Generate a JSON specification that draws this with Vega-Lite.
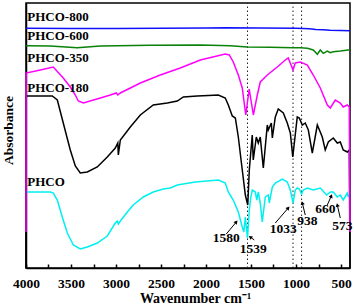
{
  "$schema": "https://vega.github.io/schema/vega-lite/v6.json",
  "width": 324,
  "height": 265,
  "autosize": {"type": "none"},
  "padding": {"left": 26, "top": 3, "right": 4, "bottom": 38},
  "background": "white",
  "config": {
    "view": {"stroke": "black", "strokeWidth": 1.5},
    "font": "Liberation Serif",
    "axis": {"grid": false, "domainColor": "black", "domainWidth": 1.5, "tickColor": "black", "labelColor": "black", "titleColor": "black", "labelFont": "Liberation Serif", "titleFont": "Liberation Serif", "labelFontWeight": "bold", "titleFontWeight": "bold"},
    "text": {"font": "Liberation Serif", "fontWeight": "bold", "color": "black"}
  },
  "datasets": {
    "curves": [
      {"s": "PHCO-800", "wn": 4000, "h": 240.7}, {"s": "PHCO-800", "wn": 3500, "h": 240.6}, {"s": "PHCO-800", "wn": 3000, "h": 240.5}, {"s": "PHCO-800", "wn": 2500, "h": 240.7}, {"s": "PHCO-800", "wn": 2000, "h": 240.9}, {"s": "PHCO-800", "wn": 1786, "h": 241.3}, {"s": "PHCO-800", "wn": 1400, "h": 241}, {"s": "PHCO-800", "wn": 1000, "h": 240.7}, {"s": "PHCO-800", "wn": 850, "h": 240.3}, {"s": "PHCO-800", "wn": 780, "h": 239.5}, {"s": "PHCO-800", "wn": 700, "h": 239.3}, {"s": "PHCO-800", "wn": 620, "h": 238.8}, {"s": "PHCO-800", "wn": 500, "h": 238.5}, {"s": "PHCO-800", "wn": 400, "h": 238.3},
      {"s": "PHCO-600", "wn": 4000, "h": 223.3}, {"s": "PHCO-600", "wn": 3730, "h": 223}, {"s": "PHCO-600", "wn": 3430, "h": 221.3}, {"s": "PHCO-600", "wn": 3174, "h": 223}, {"s": "PHCO-600", "wn": 2619, "h": 223.7}, {"s": "PHCO-600", "wn": 2063, "h": 224}, {"s": "PHCO-600", "wn": 1730, "h": 223.3}, {"s": "PHCO-600", "wn": 1541, "h": 222}, {"s": "PHCO-600", "wn": 1286, "h": 221.7}, {"s": "PHCO-600", "wn": 1030, "h": 221.3}, {"s": "PHCO-600", "wn": 952, "h": 221.3}, {"s": "PHCO-600", "wn": 874, "h": 220.7}, {"s": "PHCO-600", "wn": 808, "h": 219}, {"s": "PHCO-600", "wn": 763, "h": 214.7}, {"s": "PHCO-600", "wn": 730, "h": 219}, {"s": "PHCO-600", "wn": 697, "h": 215.7}, {"s": "PHCO-600", "wn": 652, "h": 218}, {"s": "PHCO-600", "wn": 619, "h": 216.3}, {"s": "PHCO-600", "wn": 586, "h": 217.3}, {"s": "PHCO-600", "wn": 508, "h": 218}, {"s": "PHCO-600", "wn": 419, "h": 219}, {"s": "PHCO-600", "wn": 400, "h": 219},
      {"s": "PHCO-350", "wn": 4000, "h": 37}, {"s": "PHCO-350", "wn": 3999, "h": 196}, {"s": "PHCO-350", "wn": 3841, "h": 199}, {"s": "PHCO-350", "wn": 3697, "h": 202}, {"s": "PHCO-350", "wn": 3586, "h": 191}, {"s": "PHCO-350", "wn": 3508, "h": 182}, {"s": "PHCO-350", "wn": 3452, "h": 174}, {"s": "PHCO-350", "wn": 3419, "h": 168}, {"s": "PHCO-350", "wn": 3363, "h": 166}, {"s": "PHCO-350", "wn": 3174, "h": 171}, {"s": "PHCO-350", "wn": 3063, "h": 174}, {"s": "PHCO-350", "wn": 2997, "h": 176}, {"s": "PHCO-350", "wn": 2980, "h": 174}, {"s": "PHCO-350", "wn": 2952, "h": 176}, {"s": "PHCO-350", "wn": 2730, "h": 186}, {"s": "PHCO-350", "wn": 2508, "h": 194}, {"s": "PHCO-350", "wn": 2286, "h": 201}, {"s": "PHCO-350", "wn": 2063, "h": 209}, {"s": "PHCO-350", "wn": 1786, "h": 215}, {"s": "PHCO-350", "wn": 1741, "h": 214}, {"s": "PHCO-350", "wn": 1697, "h": 207}, {"s": "PHCO-350", "wn": 1641, "h": 194}, {"s": "PHCO-350", "wn": 1597, "h": 181}, {"s": "PHCO-350", "wn": 1558, "h": 154}, {"s": "PHCO-350", "wn": 1520, "h": 180}, {"s": "PHCO-350", "wn": 1474, "h": 154}, {"s": "PHCO-350", "wn": 1430, "h": 174}, {"s": "PHCO-350", "wn": 1397, "h": 187}, {"s": "PHCO-350", "wn": 1319, "h": 194}, {"s": "PHCO-350", "wn": 1208, "h": 202}, {"s": "PHCO-350", "wn": 1119, "h": 209}, {"s": "PHCO-350", "wn": 1086, "h": 211}, {"s": "PHCO-350", "wn": 1033, "h": 199}, {"s": "PHCO-350", "wn": 1008, "h": 206}, {"s": "PHCO-350", "wn": 952, "h": 207}, {"s": "PHCO-350", "wn": 874, "h": 204}, {"s": "PHCO-350", "wn": 808, "h": 194}, {"s": "PHCO-350", "wn": 730, "h": 181}, {"s": "PHCO-350", "wn": 652, "h": 164}, {"s": "PHCO-350", "wn": 619, "h": 161}, {"s": "PHCO-350", "wn": 563, "h": 169}, {"s": "PHCO-350", "wn": 508, "h": 166}, {"s": "PHCO-350", "wn": 475, "h": 162}, {"s": "PHCO-350", "wn": 430, "h": 164}, {"s": "PHCO-350", "wn": 408, "h": 162}, {"s": "PHCO-350", "wn": 400, "h": 37},
      {"s": "PHCO-180", "wn": 4000, "h": 1}, {"s": "PHCO-180", "wn": 3999, "h": 173}, {"s": "PHCO-180", "wn": 3708, "h": 173}, {"s": "PHCO-180", "wn": 3652, "h": 169}, {"s": "PHCO-180", "wn": 3586, "h": 146}, {"s": "PHCO-180", "wn": 3508, "h": 119}, {"s": "PHCO-180", "wn": 3452, "h": 103}, {"s": "PHCO-180", "wn": 3397, "h": 96}, {"s": "PHCO-180", "wn": 3319, "h": 97}, {"s": "PHCO-180", "wn": 3208, "h": 102}, {"s": "PHCO-180", "wn": 3097, "h": 112}, {"s": "PHCO-180", "wn": 3008, "h": 121}, {"s": "PHCO-180", "wn": 2980, "h": 126}, {"s": "PHCO-180", "wn": 2974, "h": 114}, {"s": "PHCO-180", "wn": 2952, "h": 129}, {"s": "PHCO-180", "wn": 2841, "h": 142}, {"s": "PHCO-180", "wn": 2730, "h": 154}, {"s": "PHCO-180", "wn": 2586, "h": 164}, {"s": "PHCO-180", "wn": 2430, "h": 166}, {"s": "PHCO-180", "wn": 2319, "h": 168}, {"s": "PHCO-180", "wn": 2252, "h": 172}, {"s": "PHCO-180", "wn": 2097, "h": 173}, {"s": "PHCO-180", "wn": 1974, "h": 173.5}, {"s": "PHCO-180", "wn": 1863, "h": 174}, {"s": "PHCO-180", "wn": 1786, "h": 171}, {"s": "PHCO-180", "wn": 1752, "h": 164}, {"s": "PHCO-180", "wn": 1708, "h": 153}, {"s": "PHCO-180", "wn": 1674, "h": 151}, {"s": "PHCO-180", "wn": 1641, "h": 132}, {"s": "PHCO-180", "wn": 1597, "h": 99}, {"s": "PHCO-180", "wn": 1563, "h": 74}, {"s": "PHCO-180", "wn": 1536, "h": 64}, {"s": "PHCO-180", "wn": 1519, "h": 99}, {"s": "PHCO-180", "wn": 1486, "h": 134}, {"s": "PHCO-180", "wn": 1475, "h": 109}, {"s": "PHCO-180", "wn": 1441, "h": 132}, {"s": "PHCO-180", "wn": 1419, "h": 126}, {"s": "PHCO-180", "wn": 1397, "h": 132}, {"s": "PHCO-180", "wn": 1363, "h": 101}, {"s": "PHCO-180", "wn": 1319, "h": 144}, {"s": "PHCO-180", "wn": 1308, "h": 139}, {"s": "PHCO-180", "wn": 1274, "h": 146}, {"s": "PHCO-180", "wn": 1263, "h": 131}, {"s": "PHCO-180", "wn": 1230, "h": 152}, {"s": "PHCO-180", "wn": 1197, "h": 160}, {"s": "PHCO-180", "wn": 1141, "h": 156}, {"s": "PHCO-180", "wn": 1097, "h": 146}, {"s": "PHCO-180", "wn": 1063, "h": 136}, {"s": "PHCO-180", "wn": 1036, "h": 112}, {"s": "PHCO-180", "wn": 986, "h": 152}, {"s": "PHCO-180", "wn": 963, "h": 151}, {"s": "PHCO-180", "wn": 930, "h": 144}, {"s": "PHCO-180", "wn": 897, "h": 146}, {"s": "PHCO-180", "wn": 863, "h": 139}, {"s": "PHCO-180", "wn": 819, "h": 116}, {"s": "PHCO-180", "wn": 763, "h": 144}, {"s": "PHCO-180", "wn": 708, "h": 132}, {"s": "PHCO-180", "wn": 675, "h": 119}, {"s": "PHCO-180", "wn": 641, "h": 127}, {"s": "PHCO-180", "wn": 586, "h": 131}, {"s": "PHCO-180", "wn": 541, "h": 126}, {"s": "PHCO-180", "wn": 508, "h": 127}, {"s": "PHCO-180", "wn": 475, "h": 119}, {"s": "PHCO-180", "wn": 430, "h": 117}, {"s": "PHCO-180", "wn": 408, "h": 119}, {"s": "PHCO-180", "wn": 400, "h": 1},
      {"s": "PHCO", "wn": 4000, "h": 77}, {"s": "PHCO", "wn": 3730, "h": 77}, {"s": "PHCO", "wn": 3697, "h": 76}, {"s": "PHCO", "wn": 3652, "h": 69}, {"s": "PHCO", "wn": 3597, "h": 52}, {"s": "PHCO", "wn": 3541, "h": 36}, {"s": "PHCO", "wn": 3474, "h": 24}, {"s": "PHCO", "wn": 3397, "h": 20}, {"s": "PHCO", "wn": 3319, "h": 22}, {"s": "PHCO", "wn": 3208, "h": 26}, {"s": "PHCO", "wn": 3097, "h": 33}, {"s": "PHCO", "wn": 3008, "h": 46}, {"s": "PHCO", "wn": 2986, "h": 48}, {"s": "PHCO", "wn": 2974, "h": 45}, {"s": "PHCO", "wn": 2952, "h": 48}, {"s": "PHCO", "wn": 2874, "h": 57}, {"s": "PHCO", "wn": 2808, "h": 64}, {"s": "PHCO", "wn": 2697, "h": 72}, {"s": "PHCO", "wn": 2586, "h": 77}, {"s": "PHCO", "wn": 2475, "h": 80}, {"s": "PHCO", "wn": 2397, "h": 81}, {"s": "PHCO", "wn": 2319, "h": 84}, {"s": "PHCO", "wn": 2119, "h": 87}, {"s": "PHCO", "wn": 1863, "h": 89}, {"s": "PHCO", "wn": 1786, "h": 86}, {"s": "PHCO", "wn": 1752, "h": 77}, {"s": "PHCO", "wn": 1697, "h": 69}, {"s": "PHCO", "wn": 1641, "h": 57}, {"s": "PHCO", "wn": 1597, "h": 42}, {"s": "PHCO", "wn": 1580, "h": 37}, {"s": "PHCO", "wn": 1563, "h": 52}, {"s": "PHCO", "wn": 1549, "h": 39}, {"s": "PHCO", "wn": 1539, "h": 31}, {"s": "PHCO", "wn": 1519, "h": 59}, {"s": "PHCO", "wn": 1502, "h": 72}, {"s": "PHCO", "wn": 1486, "h": 79}, {"s": "PHCO", "wn": 1452, "h": 77}, {"s": "PHCO", "wn": 1436, "h": 69}, {"s": "PHCO", "wn": 1419, "h": 77}, {"s": "PHCO", "wn": 1397, "h": 66}, {"s": "PHCO", "wn": 1375, "h": 47}, {"s": "PHCO", "wn": 1341, "h": 72}, {"s": "PHCO", "wn": 1308, "h": 74}, {"s": "PHCO", "wn": 1297, "h": 66}, {"s": "PHCO", "wn": 1263, "h": 82}, {"s": "PHCO", "wn": 1230, "h": 86}, {"s": "PHCO", "wn": 1152, "h": 90}, {"s": "PHCO", "wn": 1097, "h": 87}, {"s": "PHCO", "wn": 1063, "h": 79}, {"s": "PHCO", "wn": 1033, "h": 66}, {"s": "PHCO", "wn": 1008, "h": 79}, {"s": "PHCO", "wn": 986, "h": 81}, {"s": "PHCO", "wn": 963, "h": 80}, {"s": "PHCO", "wn": 938, "h": 75}, {"s": "PHCO", "wn": 919, "h": 79}, {"s": "PHCO", "wn": 874, "h": 81}, {"s": "PHCO", "wn": 808, "h": 79}, {"s": "PHCO", "wn": 730, "h": 81}, {"s": "PHCO", "wn": 660, "h": 74}, {"s": "PHCO", "wn": 619, "h": 77}, {"s": "PHCO", "wn": 586, "h": 77}, {"s": "PHCO", "wn": 541, "h": 72}, {"s": "PHCO", "wn": 508, "h": 74}, {"s": "PHCO", "wn": 475, "h": 69}, {"s": "PHCO", "wn": 430, "h": 76}, {"s": "PHCO", "wn": 419, "h": 72}
    ],
    "marks": [
      {"wn": 1539, "h": 1, "h2": 266}, {"wn": 1033, "h": 1, "h2": 266}, {"wn": 938, "h": 1, "h2": 266}
    ],
    "arrows": [
      {"wn": 1775, "h": 35, "wn2": 1663, "h2": 47},
      {"wn": 1463, "h": 29, "wn2": 1508, "h2": 32},
      {"wn": 1230, "h": 46, "wn2": 1086, "h2": 61},
      {"wn": 897, "h": 54, "wn2": 930, "h2": 66},
      {"wn": 652, "h": 64, "wn2": 608, "h2": 73},
      {"wn": 508, "h": 51, "wn2": 541, "h2": 64}
    ],
    "peaks": [
      {"label": "1580", "wn": 1775, "h": 31},
      {"label": "1539", "wn": 1475, "h": 20},
      {"label": "1033", "wn": 1141, "h": 40},
      {"label": "938", "wn": 874, "h": 48},
      {"label": "660", "wn": 675, "h": 60},
      {"label": "573", "wn": 486, "h": 43}
    ],
    "names": [
      {"label": "PHCO-800", "wn": 3986, "h": 252},
      {"label": "PHCO-600", "wn": 3986, "h": 233},
      {"label": "PHCO-350", "wn": 3986, "h": 211},
      {"label": "PHCO-180", "wn": 3986, "h": 181},
      {"label": "PHCO", "wn": 3986, "h": 87}
    ]
  },
  "encoding": {
    "x": {
      "field": "wn", "type": "quantitative",
      "scale": {"domain": [4000, 400], "nice": false, "zero": false},
      "axis": {
        "title": "Wavenumber cm⁻¹",
        "values": [4000, 3750, 3500, 3250, 3000, 2750, 2500, 2250, 2000, 1750, 1500, 1250, 1000, 750, 500],
        "labelExpr": "datum.value % 500 === 0 ? datum.label : ''",
        "format": "d",
        "tickSize": -4, "tickWidth": 1.5,
        "labelPadding": 12, "labelFontSize": 13.5, "labelFlush": false, "labelOverlap": false,
        "titleFontSize": 14, "titleX": 169, "titleY": 34, "titleBaseline": "alphabetic", "titleAlign": "center"
      }
    },
    "y": {
      "field": "h", "type": "quantitative",
      "scale": {"domain": [1, 266], "nice": false, "zero": false},
      "axis": {
        "title": "Absorbance", "ticks": false, "labels": false,
        "titleFontSize": 13.5, "titleAngle": 270, "titleX": -18, "titleY": 127,
        "titleAlign": "center", "titleBaseline": "middle"
      }
    }
  },
  "layer": [
    {
      "data": {"name": "marks"},
      "mark": {"type": "rule", "color": "#222222", "strokeWidth": 1, "strokeDash": [1.5, 2.5]},
      "encoding": {"y2": {"field": "h2"}}
    },
    {
      "data": {"name": "curves"},
      "transform": [{"filter": "datum.s === 'PHCO'"}],
      "mark": {"type": "line", "color": "#00f0f0", "strokeWidth": 1.5}
    },
    {
      "data": {"name": "curves"},
      "transform": [{"filter": "datum.s === 'PHCO-180'"}],
      "mark": {"type": "line", "color": "black", "strokeWidth": 1.5}
    },
    {
      "data": {"name": "curves"},
      "transform": [{"filter": "datum.s === 'PHCO-350'"}],
      "mark": {"type": "line", "color": "#ff00ff", "strokeWidth": 1.5}
    },
    {
      "data": {"name": "curves"},
      "transform": [{"filter": "datum.s === 'PHCO-600'"}],
      "mark": {"type": "line", "color": "#0a820a", "strokeWidth": 1.5}
    },
    {
      "data": {"name": "curves"},
      "transform": [{"filter": "datum.s === 'PHCO-800'"}],
      "mark": {"type": "line", "color": "#1010ff", "strokeWidth": 1.5}
    },
    {
      "data": {"name": "arrows"},
      "mark": {"type": "rule", "color": "black", "strokeWidth": 1},
      "encoding": {"x2": {"field": "wn2"}, "y2": {"field": "h2"}}
    },
    {
      "data": {"name": "arrows"},
      "transform": [{"calculate": "atan2(-(datum.wn2 - datum.wn) * 0.09, datum.h2 - datum.h) * 180 / PI", "as": "ang"}],
      "mark": {"type": "point", "shape": "triangle-up", "filled": true, "color": "black", "size": 18, "opacity": 1},
      "encoding": {
        "x": {"field": "wn2", "type": "quantitative"},
        "y": {"field": "h2", "type": "quantitative"},
        "angle": {"field": "ang", "type": "quantitative", "scale": null}
      }
    },
    {
      "data": {"name": "peaks"},
      "mark": {"type": "text", "fontSize": 13.5, "align": "center", "baseline": "middle"},
      "encoding": {"text": {"field": "label"}}
    },
    {
      "data": {"name": "names"},
      "mark": {"type": "text", "fontSize": 13, "align": "left", "baseline": "middle"},
      "encoding": {"text": {"field": "label"}}
    }
  ]
}
